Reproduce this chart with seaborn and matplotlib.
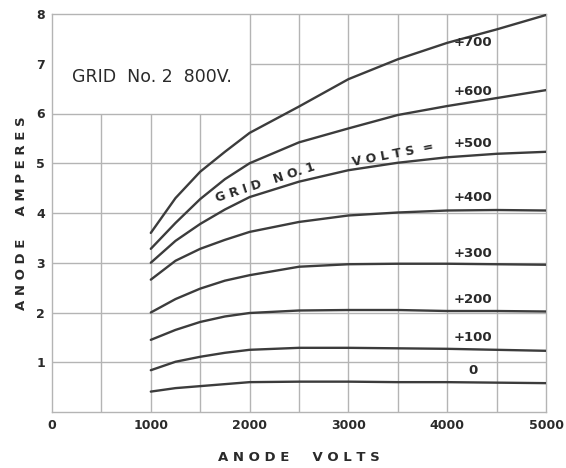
import numpy as np
import pandas as pd
import matplotlib
matplotlib.use("Agg")
import matplotlib.pyplot as plt
import seaborn as sns

# ── Data ──────────────────────────────────────────────────────────────────
anode_volts = [1000, 1250, 1500, 1750, 2000, 2500, 3000, 3500, 4000, 4500, 5000]
grid1_labels = ["0", "+100", "+200", "+300", "+400", "+500", "+600", "+700"]
amps_0   = [0.41, 0.48, 0.52, 0.56, 0.60, 0.61, 0.61, 0.60, 0.60, 0.59, 0.58]
amps_100 = [0.84, 1.01, 1.11, 1.19, 1.25, 1.29, 1.29, 1.28, 1.27, 1.25, 1.23]
amps_200 = [1.45, 1.65, 1.81, 1.92, 1.99, 2.04, 2.05, 2.05, 2.03, 2.03, 2.02]
amps_300 = [2.00, 2.27, 2.48, 2.64, 2.75, 2.92, 2.97, 2.98, 2.98, 2.97, 2.96]
amps_400 = [2.66, 3.04, 3.28, 3.46, 3.62, 3.82, 3.95, 4.01, 4.05, 4.06, 4.05]
amps_500 = [3.00, 3.44, 3.78, 4.07, 4.32, 4.63, 4.86, 5.01, 5.12, 5.19, 5.23]
amps_600 = [3.28, 3.80, 4.28, 4.68, 5.00, 5.42, 5.70, 5.97, 6.15, 6.31, 6.47]
amps_700 = [3.60, 4.30, 4.83, 5.23, 5.61, 6.14, 6.69, 7.09, 7.42, 7.69, 7.98]
all_amps = [amps_0, amps_100, amps_200, amps_300, amps_400, amps_500, amps_600, amps_700]

# label positions next to each curve
label_x = 4260
label_y = [0.84, 1.50, 2.26, 3.18, 4.32, 5.40, 6.44, 7.42]

x_ticks = [0, 1000, 2000, 3000, 4000, 5000]
y_ticks = [1, 2, 3, 4, 5, 6, 7, 8]

rows = []
for lab, amps in zip(grid1_labels, all_amps):
    for v, a in zip(anode_volts, amps):
        rows.append({"grid1": lab, "volts": v, "amps": a})
df = pd.DataFrame(rows)

# ── Style ────────────────────────────────────────────────────────────────
sns.set_style("white")
plt.rcParams["font.family"] = ["DejaVu Sans"]
LINE_C = "#3c3c3c"
GRID_C = "#b4b4b4"
TEXT_C = "#2a2a2a"

fig = plt.figure(figsize=(5.66, 4.68), dpi=100)
ax = fig.add_axes([52/566, 56/468, 494/566, 398/468])

# graph-paper grid (no grid inside the title box at top-left)
for y in [1, 2, 3, 4, 5, 6]:
    ax.hlines(y, 0, 5000, color=GRID_C, lw=1, zorder=1)
ax.hlines(7, 2000, 5000, color=GRID_C, lw=1, zorder=1)
for x in [500, 1000, 1500]:
    ax.vlines(x, 0, 6, color=GRID_C, lw=1, zorder=1)
for x in [2000, 2500, 3000, 3500, 4000, 4500]:
    ax.vlines(x, 0, 8, color=GRID_C, lw=1, zorder=1)

sns.lineplot(data=df, x="volts", y="amps", units="grid1", estimator=None,
             color=LINE_C, lw=1.7, ax=ax, zorder=3)

ax.set_xlim(0, 5000)
ax.set_ylim(0, 8)
ax.set_xticks(x_ticks)
ax.set_yticks(y_ticks)
ax.set_xticklabels([str(t) for t in x_ticks], fontsize=9, fontweight="bold", color=TEXT_C)
ax.set_yticklabels([str(t) for t in y_ticks], fontsize=9, fontweight="bold", color=TEXT_C)
ax.tick_params(length=0, pad=5)
for s in ax.spines.values():
    s.set_color(GRID_C)
    s.set_linewidth(1)

ax.set_xlabel("A N O D E     V O L T S", fontsize=9.5, fontweight="bold",
              color=TEXT_C, labelpad=14)
ax.set_ylabel("A N O D E     A M P E R E S", fontsize=9.5, fontweight="bold",
              color=TEXT_C, labelpad=6)

for lab, y in zip(grid1_labels, label_y):
    ax.text(label_x, y, lab, ha="center", va="center", fontsize=9.5,
            fontweight="bold", color=TEXT_C, zorder=4)

ax.text(1010, 6.73, "GRID  No. 2  800V.", ha="center", va="center",
        fontsize=12.5, color=TEXT_C)
ax.text(2160, 4.62, "G R I D   N O. 1", ha="center", va="center",
        rotation=18, rotation_mode="anchor", fontsize=9, fontweight="bold", color=TEXT_C)
ax.text(3450, 5.17, "V O L T S  =", ha="center", va="center",
        rotation=11, rotation_mode="anchor", fontsize=9, fontweight="bold", color=TEXT_C)

plt.savefig("out.png", dpi=100)
plt.close()
